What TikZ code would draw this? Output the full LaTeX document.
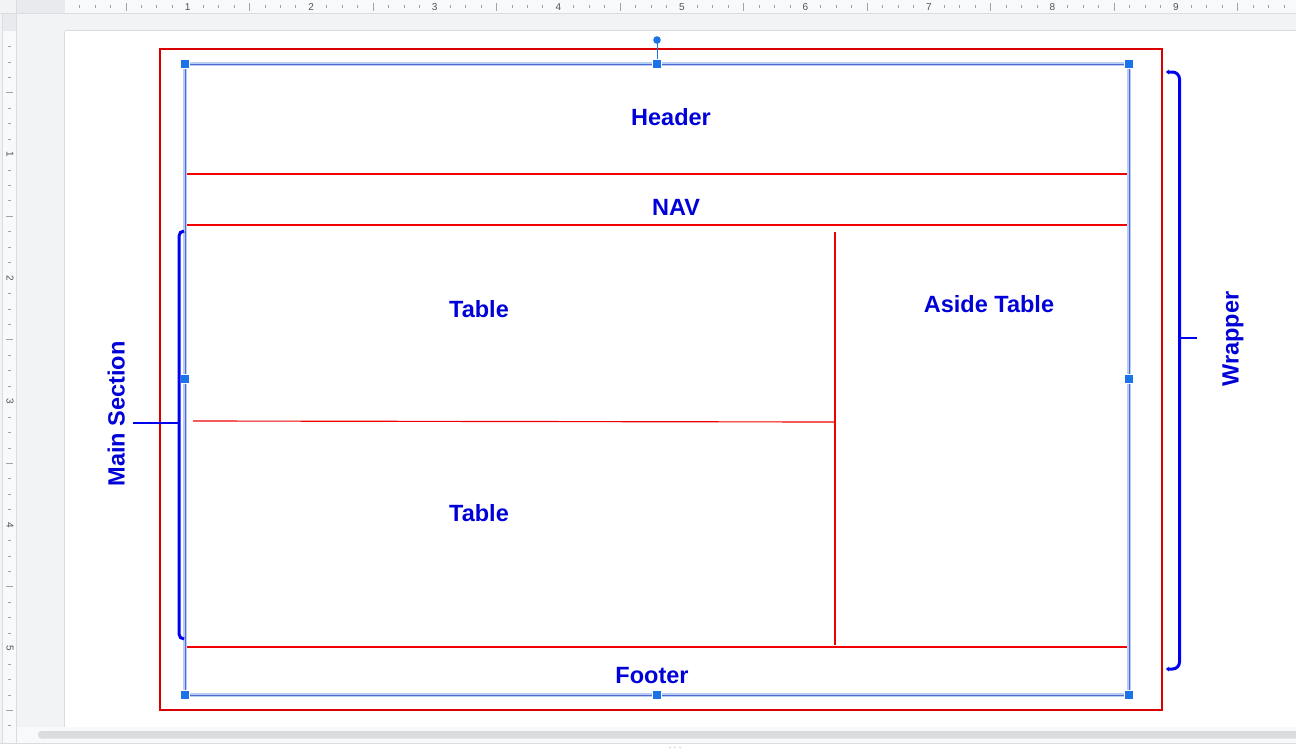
\documentclass[tikz,border=0pt]{standalone}
\usepackage{fontspec}
\setmainfont{Liberation Sans}
\usetikzlibrary{arrows.meta}
\definecolor{redline}{HTML}{F00000}
\definecolor{outerred}{HTML}{D80000}
\definecolor{lblblue}{HTML}{0000D8}
\definecolor{brk}{HTML}{0000F0}
\definecolor{selblue}{HTML}{5566D0}
\definecolor{halo}{HTML}{B8CFF5}
\definecolor{handle}{HTML}{1A73E8}
\definecolor{rulerbg}{HTML}{F8F9FA}
\definecolor{chrome}{HTML}{F1F3F4}
\definecolor{chromedark}{HTML}{E8EAED}
\definecolor{rulerline}{HTML}{DADCE0}
\definecolor{tickc}{HTML}{A0A4A8}
\definecolor{numc}{HTML}{505458}
\begin{document}
\begin{tikzpicture}[x=1pt,y=-1pt,
  lbl/.style={font=\fontsize{23.5}{28}\selectfont\bfseries, text=lblblue, inner sep=0pt, text height=17pt, text depth=0pt},
  wall/.style={draw=redline, line width=1.15pt},
  bracket/.style={draw=brk, line width=3pt, rounded corners=5pt},
  handlebox/.style={fill=handle, draw=white, line width=0.5pt, minimum size=9pt, inner sep=0pt, rectangle},
  rnum/.style={font=\fontsize{10}{11}\selectfont, text=numc, inner sep=0pt},
  tickline/.style={draw=tickc, line width=0.7pt}]
\useasboundingbox (0,0) rectangle (1296,750);
% chrome
\fill[white] (0,0) rectangle (1296,750);
\fill[chrome] (0,0) rectangle (1296,743);
\fill[chromedark] (16,0) rectangle (65,13);
\fill[rulerbg] (65,0) rectangle (1296,13);
\draw[rulerline, line width=0.8pt] (0,13.5) -- (1296,13.5);
\fill[chromedark] (3,13.5) rectangle (16,31);
\fill[rulerbg] (3,31) rectangle (16,743);
\draw[rulerline, line width=0.8pt] (16.5,0) -- (16.5,743);
\draw[rulerline, line width=0.8pt] (2.5,13.5) -- (2.5,743);
% page
\fill[white] (65,31) rectangle (1296,727);
\draw[rulerline, line width=0.8pt] (64.5,31) -- (64.5,727);
\draw[rulerline, line width=0.8pt] (65,30.5) -- (1296,30.5);
% scrollbar
\fill[rulerbg] (16.5,727) rectangle (1296,743);
\fill[rulerline, rounded corners=3.5pt] (38,731) rectangle (1300,738.5);
\draw[rulerline, line width=0.8pt] (0,743) -- (1296,743);
\foreach \dx in {-5,0,5} \fill[rulerline] (675+\dx,747.5) circle (1.2);
% top ruler
\foreach \i in {1,...,79}{
  \pgfmathsetmacro{\xx}{64.2+15.44*\i}
  \pgfmathtruncatemacro{\m}{mod(\i,8)}
  \pgfmathtruncatemacro{\h}{mod(\i,4)}
  \pgfmathtruncatemacro{\n}{\i/8}
  \ifnum\m=0 \node[rnum] at (\xx,7) {\n};
  \else\ifnum\h=0 \draw[tickline] (\xx,2.5) -- (\xx,10.5);
  \else \draw[tickline] (\xx,4.5) -- (\xx,8);\fi\fi
}
% left ruler
\foreach \i in {1,...,45}{
  \pgfmathsetmacro{\yy}{31+15.44*\i}
  \pgfmathtruncatemacro{\m}{mod(\i,8)}
  \pgfmathtruncatemacro{\h}{mod(\i,4)}
  \pgfmathtruncatemacro{\n}{\i/8}
  \ifnum\m=0 \node[rnum, rotate=-90] at (10,\yy) {\n};
  \else\ifnum\h=0 \draw[tickline] (6,\yy) -- (13,\yy);
  \else \draw[tickline] (8,\yy) -- (11,\yy);\fi\fi
}
% outer wrapper box
\draw[outerred, line width=1.1pt] (160,49) rectangle (1162,710);
% inner walls
\draw[wall] (185,174) -- (1129,174);
\draw[wall] (185,225) -- (1129,225);
\draw[wall] (185,647) -- (1129,647);
\draw[wall] (835,232) -- (835,645);
\draw[wall] (193,421) -- (835,422);
% selection box
\draw[halo, line width=3.2pt] (185,64) rectangle (1129,695);
\draw[selblue, line width=1pt] (185,64) rectangle (1129,695);
\draw[handle, line width=1pt] (657,43) -- (657,64);
\fill[handle] (657,40) circle (3.8);
\foreach \p/\nm in {{185,64}/h1,{657,64}/h2,{1129,64}/h3,{185,379}/h4,{1129,379}/h5,{185,695}/h6,{657,695}/h7,{1129,695}/h8}
  \node[handlebox] (\nm) at (\p) {};
% labels
\node[lbl] (header) at (671,117) {Header};
\node[lbl] (nav) at (676,207) {NAV};
\node[lbl] (table1) at (479,309) {Table};
\node[lbl] (aside) at (989,304) {Aside Table};
\node[lbl] (table2) at (479,513) {Table};
\node[lbl] (footer) at (652,675) {Footer};
\node[lbl, rotate=90] (wrapper) at (1230,339) {Wrapper};
\node[lbl, rotate=90] (mainsec) at (116,414) {Main Section};
% brackets
\coordinate (lbtop) at (184,231);
\coordinate (lbbot) at (184,639);
\coordinate (lbmid) at (179,423);
\coordinate (lbtick) at (133,423);
\draw[bracket] (lbtop) -- (179,231) -- (179,639) -- (lbbot);
\draw[brk, line width=2.5pt] (lbmid) -- (lbtick);
\coordinate (rbtop) at (1166,72);
\coordinate (rbbot) at (1166,669);
\coordinate (rbmid) at (1179,338);
\coordinate (rbtick) at (1197,338);
\draw[bracket, rounded corners=7pt, {Stealth[length=3pt,width=5pt]}-{Stealth[length=3pt,width=5pt]}] (rbtop) -- (1179.5,72) -- (1179.5,669) -- (rbbot);
\draw[brk, line width=2.5pt] (rbmid) -- (rbtick);
\end{tikzpicture}
\end{document}
